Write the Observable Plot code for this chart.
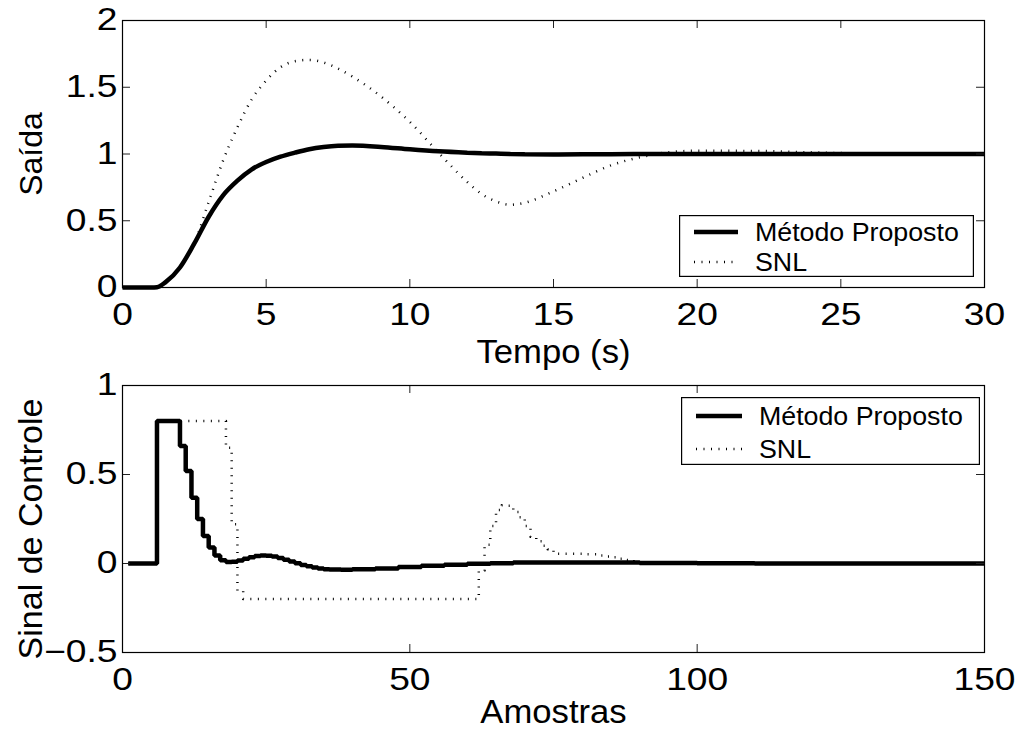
<!DOCTYPE html>
<html>
<head>
<meta charset="utf-8">
<script src="https://cdn.jsdelivr.net/npm/d3@7"></script>
<script src="https://cdn.jsdelivr.net/npm/@observablehq/plot@0.6"></script>
<style>
  body { margin: 0; background: #fff; }
  #chart { position: relative; width: 1018px; height: 729px; background: #fff; overflow: hidden;
           font-family: "Liberation Sans", Arial, Helvetica, sans-serif; }
  #chart > svg { position: absolute; left: 0; }
  .legend { position: absolute; }
</style>
</head>
<body>
<div id="chart"></div>
<script>
// ---------- data ----------
const seriesNames = ["Método Proposto", "SNL"];

// top panel: output vs time (s)
const topTime   = [0, 0.5, 1, 1.2, 1.5, 2, 2.5, 3, 3.5, 4, 4.5, 5, 5.5, 6, 6.5, 7, 7.5, 8, 9, 10,
                   11, 12, 12.5, 13, 13.5, 14, 15, 16, 17, 18, 19, 20, 22, 24, 26, 28, 30];
const topMetodo = [0, 0, 0, 0.002, 0.04, 0.15, 0.33, 0.53, 0.69, 0.8, 0.885, 0.94, 0.98, 1.01, 1.036, 1.052, 1.061, 1.063, 1.053, 1.035,
                   1.02, 1.01, 1.006, 1.003, 1.0, 0.998, 0.997, 0.998, 0.999, 1.0, 1.0, 1.0, 1.0, 1.0, 1.0, 1.0, 1.0];
const topSNL    = [0, 0, 0, 0.002, 0.04, 0.15, 0.33, 0.64, 0.95, 1.2, 1.41, 1.55, 1.65, 1.695, 1.705, 1.685, 1.64, 1.58, 1.43, 1.24,
                   1.01, 0.79, 0.70, 0.645, 0.62, 0.635, 0.72, 0.82, 0.915, 0.975, 1.013, 1.024, 1.023, 1.012, 1.003, 1.0, 1.0];

// bottom panel: control signal vs samples (step changes)
const ctrlMetodoK = [1, 6, 10, 11, 12, 13, 14, 15, 16, 17, 18, 19, 20, 21, 22, 23, 24, 25, 26, 27, 28, 29, 30,
                     31, 32, 33, 34, 35, 36, 38, 40, 44, 48, 52, 56, 60, 64, 68, 74, 82, 90, 100, 110, 150];
const ctrlMetodoV = [0, 0.8, 0.66, 0.52, 0.37, 0.25, 0.155, 0.09, 0.045, 0.018, 0.008, 0.01, 0.017, 0.026, 0.035, 0.042, 0.045, 0.044, 0.039, 0.031, 0.021, 0.011, 0.001,
                     -0.008, -0.016, -0.023, -0.028, -0.032, -0.034, -0.035, -0.033, -0.028, -0.02, -0.013, -0.007, -0.002, 0.002, 0.005, 0.006, 0.005, 0.003, 0.001, 0, 0];
const ctrlSNLK = [1, 6, 18, 19, 20, 21, 62, 63, 64, 65, 66, 67, 68, 69, 70, 71, 72, 73, 74, 75, 80, 83, 84, 85, 86, 87, 88, 89, 90, 150];
const ctrlSNLV = [0, 0.8, 0.65, 0.22, -0.155, -0.2, -0.04, 0.105, 0.21, 0.3, 0.327, 0.325, 0.29, 0.26, 0.21, 0.15, 0.125, 0.1, 0.08, 0.055, 0.052, 0.045, 0.04, 0.035, 0.027, 0.02, 0.012, 0.005, 0, 0];

// axes
const topXDomain = [0, 30], topYDomain = [0, 2];
const topXTicks = [0, 5, 10, 15, 20, 25, 30];
const topYTicks = [0, 0.5, 1, 1.5, 2];
const botXDomain = [0, 150], botYDomain = [-0.5, 1];
const botXTicks = [0, 50, 100, 150];
const botYTicks = [-0.5, 0, 0.5, 1];
const topXLabel = "Tempo (s)", topYLabel = "Saída";
const botXLabel = "Amostras", botYLabel = "Sinal de Controle";

// ---------- drawing ----------
const FONT = '"Liberation Sans", Arial, Helvetica, sans-serif';
const W = 1018, ML = 122, MR = 34, TICK = 8;
const fmt = d => (d < 0 ? "\u2212" + Math.abs(d) : String(d));

function zip(xs, ys) { return xs.map((x, i) => ({x, y: ys[i]})); }

function stretch(svg, selector, s) {
  svg.querySelectorAll(selector).forEach(t => {
    const tr = t.getAttribute("transform") || "";
    if (tr.includes("rotate")) return;
    const x = parseFloat(t.getAttribute("x")) || 0;
    t.setAttribute("transform", `${tr} translate(${x},0) scale(${s},1) translate(${-x},0)`);
  });
}

function panel(o) {
  const plotW = W - ML - MR;
  const plotH = o.height - o.marginTop - o.marginBottom;
  const tickStyle = {stroke: "#222", strokeWidth: 1};
  const svg = Plot.plot({
    width: W, height: o.height,
    marginTop: o.marginTop, marginBottom: o.marginBottom, marginLeft: ML, marginRight: MR,
    x: {domain: o.xDomain, label: null},
    y: {domain: o.yDomain, label: null},
    style: {fontFamily: FONT, fontSize: "31px", background: "transparent", color: "#000", overflow: "visible"},
    marks: [
      Plot.line(o.series[0], {x: "x", y: "y", curve: o.curve, stroke: "#000", strokeWidth: 4.5,
                              strokeLinejoin: "miter", strokeLinecap: "butt"}),
      Plot.line(o.series[1], {x: "x", y: "y", curve: o.curve, stroke: "#000", strokeWidth: 2.5,
                              strokeDasharray: "1,6.5", strokeLinecap: "butt"}),
      Plot.tickX(o.xTicks, {x: d => d, insetTop: plotH - TICK, ...tickStyle}),
      Plot.tickX(o.xTicks, {x: d => d, insetBottom: plotH - TICK, ...tickStyle}),
      Plot.tickY(o.yTicks, {y: d => d, insetRight: plotW - TICK, ...tickStyle}),
      Plot.tickY(o.yTicks, {y: d => d, insetLeft: plotW - TICK, ...tickStyle}),
      Plot.frame({stroke: "#000", strokeWidth: 1.2}),
      Plot.axisX(o.xTicks, {anchor: "bottom", tickSize: 0, tickPadding: 15, tickFormat: fmt, label: null}),
      Plot.axisY(o.yTicks, {anchor: "left", tickSize: 0, tickPadding: 5, tickFormat: fmt, label: null}),
      Plot.text([o.xLabel], {text: d => d, frameAnchor: "bottom", textAnchor: "middle", lineAnchor: "bottom",
                             dy: o.xLabelDy, fontSize: 33}),
      Plot.text([o.yLabel], {text: d => d, frameAnchor: "left", textAnchor: "middle", rotate: -90,
                             lineAnchor: "bottom", dx: -81, dy: o.yLabelDy, fontSize: o.yLabelSize})
    ]
  });
  stretch(svg, 'g[aria-label="x-axis tick label"] text, g[aria-label="y-axis tick label"] text', 1.2);
  stretch(svg, 'g[aria-label="text"] text', 1.05);
  svg.style.top = o.top + "px";
  return svg;
}

const chart = document.getElementById("chart");

chart.appendChild(panel({
  top: 0, height: 372, marginTop: 20, marginBottom: 85,
  xDomain: topXDomain, yDomain: topYDomain, xTicks: topXTicks, yTicks: topYTicks,
  xLabel: topXLabel, yLabel: topYLabel, xLabelDy: 75, yLabelDy: 0, yLabelSize: 32,
  series: [zip(topTime, topMetodo), zip(topTime, topSNL)], curve: "monotone-x"
}));

chart.appendChild(panel({
  top: 372, height: 357, marginTop: 13, marginBottom: 77,
  xDomain: botXDomain, yDomain: botYDomain, xTicks: botXTicks, yTicks: botYTicks,
  xLabel: botXLabel, yLabel: botYLabel, xLabelDy: 70, yLabelDy: 10, yLabelSize: 34,
  series: [zip(ctrlMetodoK, ctrlMetodoV), zip(ctrlSNLK, ctrlSNLV)], curve: "step-after"
}));

// ---------- legends ----------
function legend(b) {
  const fs = 26;
  const rows = seriesNames.map((name, i) => {
    const cy = b.rows[i];
    const line = i === 0
      ? `<line x1="${b.s0}" x2="${b.s1}" y1="${cy}" y2="${cy}" stroke="#000" stroke-width="4.5"/>`
      : `<line x1="${b.s0}" x2="${b.s1}" y1="${cy}" y2="${cy}" stroke="#000" stroke-width="2.5" stroke-dasharray="1,6.5"/>`;
    const by = cy + fs * 0.358;
    return line + `<text x="${b.tx}" y="${by}" font-size="${fs}" transform="translate(${b.tx},0) scale(1.03,1) translate(${-b.tx},0)">${name}</text>`;
  }).join("");
  const div = document.createElement("div");
  div.className = "legend";
  div.style.left = b.left + "px";
  div.style.top = b.top + "px";
  div.innerHTML = `<svg width="${b.w}" height="${b.h}" style="display:block;font-family:${FONT.replace(/"/g, "'")}">
    <rect x="0.6" y="0.6" width="${b.w - 1.2}" height="${b.h - 1.2}" fill="#fff" stroke="#000" stroke-width="1.2"/>
    ${rows}</svg>`;
  chart.appendChild(div);
}
legend({left: 679, top: 215, w: 295, h: 62, rows: [17, 47], s0: 15, s1: 59, tx: 76});
legend({left: 681, top: 397, w: 299, h: 68, rows: [19, 52], s0: 15, s1: 61, tx: 78});
</script>
</body>
</html>
